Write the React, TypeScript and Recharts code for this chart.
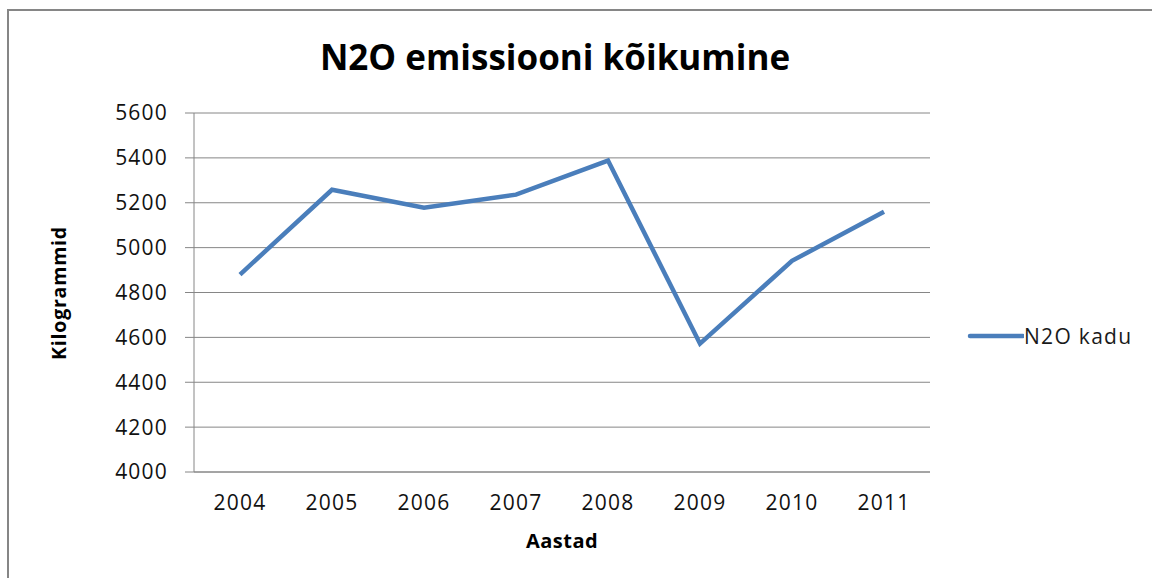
import React from 'react';
import { LineChart, Line, XAxis, YAxis, CartesianGrid, Legend } from 'recharts';

const years = ['2004', '2005', '2006', '2007', '2008', '2009', '2010', '2011'];
const n2oKadu = [4880, 5258, 5178, 5236, 5388, 4572, 4941, 5160];
const yTicks = [4000, 4200, 4400, 4600, 4800, 5000, 5200, 5400, 5600];

const titleText = 'N2O emissiooni kõikumine';
const xTitle = 'Aastad';
const yTitle = 'Kilogrammid';
const seriesName = 'N2O kadu';

const data = years.map((y, i) => ({ year: y, value: n2oKadu[i] }));

const FONT = '"Open Sans", "Liberation Sans", sans-serif';
const GRAY = '#868686';
const BLUE = '#4A7EBB';

const LegendContent = () => (
  <div style={{ display: 'flex', alignItems: 'center', fontFamily: FONT }}>
    <svg width={57} height={10} style={{ display: 'block' }}>
      <line x1={3} y1={5} x2={56} y2={5} stroke={BLUE} strokeWidth={4.5} strokeLinecap="round" />
    </svg>
    <span style={{ fontSize: 21, color: '#1a1a1a', letterSpacing: 1.3, whiteSpace: 'nowrap' }}>{seriesName}</span>
  </div>
);

export default function App() {
  return (
    <div style={{ position: 'fixed', left: 0, top: 0, width: 1152, height: 578, background: '#fff', overflow: 'hidden' }}>
      <div
        style={{
          position: 'absolute',
          left: 7,
          top: 9,
          width: 1200,
          height: 700,
          borderLeft: `2px solid ${GRAY}`,
          borderTop: `2px solid ${GRAY}`,
        }}
      />
      <div style={{ position: 'absolute', left: 0, top: 0 }}>
        <LineChart width={1152} height={578} data={data} margin={{ top: 113, right: 222, bottom: 46, left: 0 }}>
          <CartesianGrid horizontal vertical={false} stroke={GRAY} strokeWidth={1} />
          <XAxis
            dataKey="year"
            padding={{ left: 46, right: 46 }}
            height={60}
            axisLine={{ stroke: GRAY, strokeWidth: 1 }}
            tickLine={false}
            tickSize={0}
            tickMargin={23}
            tick={{ fill: '#111', fontSize: 21, fontFamily: FONT, letterSpacing: 1.2 }}
            interval={0}
          />
          <YAxis
            width={194}
            domain={[4000, 5600]}
            ticks={yTicks}
            allowDataOverflow
            axisLine={{ stroke: GRAY, strokeWidth: 1 }}
            tickLine={{ stroke: GRAY, strokeWidth: 1 }}
            tickSize={9}
            tickMargin={17}
            tick={{ fill: '#111', fontSize: 21, fontFamily: FONT, letterSpacing: 1.2 }}
            interval={0}
          />
          <Legend
            layout="horizontal"
            align="center"
            verticalAlign="middle"
            content={<LegendContent />}
            wrapperStyle={{ position: 'absolute', left: 967, top: 322, width: 185, height: 28 }}
          />
          <Line
            type="linear"
            dataKey="value"
            name={seriesName}
            stroke={BLUE}
            strokeWidth={4.5}
            dot={false}
            activeDot={false}
            isAnimationActive={false}
          />
        </LineChart>
      </div>
      <svg
        width={1152}
        height={578}
        style={{ position: 'absolute', left: 0, top: 0, pointerEvents: 'none' }}
      >
        <text x={555} y={70} textAnchor="middle" fontFamily={FONT} fontWeight={700} fontSize={35} fill="#000">
          {titleText}
        </text>
        <text x={562} y={548} textAnchor="middle" fontFamily={FONT} fontWeight={700} fontSize={20} letterSpacing={0.5} fill="#000">
          {xTitle}
        </text>
        <text
          x={0}
          y={0}
          transform="translate(66,293) rotate(-90)"
          textAnchor="middle"
          fontFamily={FONT}
          fontWeight={700}
          fontSize={19.5}
          letterSpacing={0.8}
          fill="#000"
        >
          {yTitle}
        </text>
      </svg>
    </div>
  );
}
